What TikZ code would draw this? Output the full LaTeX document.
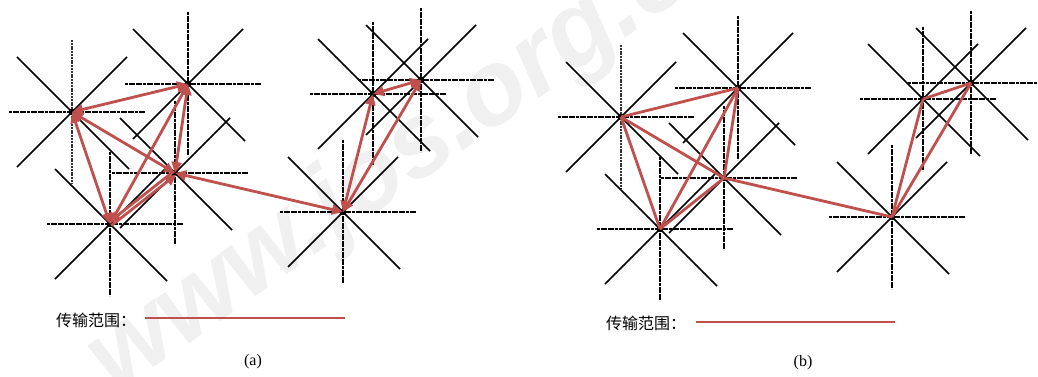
\documentclass[tikz,border=0pt]{standalone}
\usepackage{fontspec}
\setmainfont{Liberation Serif}
\newfontfamily\cjk{Noto Sans CJK SC}
\newfontfamily\wmfont{Liberation Sans}
\usetikzlibrary{arrows.meta}
\definecolor{linkred}{HTML}{C0504D}
\tikzset{
  hv/.style={line width=1.9pt, dash pattern=on 3pt off 0.6pt, black},
  vthin/.style={line width=1.1pt, dash pattern=on 2pt off 0.8pt, black!80},
  vthick/.style={},
  dg/.style={line width=1.6pt, black},
  pics/radstar/.style={code={
    \draw[hv] (-63,0) -- (73,0);
    \draw[hv,#1] (0,-72) -- (0,72);
    \draw[dg] (-55,-55) -- (57,57);
    \draw[dg] (55,-55) -- (-55,55);
    \fill[black] (-2.8,-2.8) rectangle (2.8,2.8);
  }},
  link/.style={draw=linkred, line width=2.8pt},
  arr/.style={link, {Triangle[length=11pt,width=10pt]}-{Triangle[length=11pt,width=10pt]}},
  single/.style={link, -{Triangle[length=11pt,width=10pt]}},
  legendtxt/.style={font=\cjk\fontsize{16}{16}\selectfont, anchor=west, inner sep=0pt},
  caption/.style={font=\fontsize{16}{16}\selectfont, inner sep=0pt},
}
\begin{document}
\begin{tikzpicture}[x=1pt,y=-1pt]
\useasboundingbox (0,0) rectangle (1038,377);
\fill[white] (0,0) rectangle (1038,377);
% watermark
\node[rotate=35, anchor=base west, text=black!6, inner sep=0pt,
      font=\wmfont\bfseries\itshape\fontsize{105}{105}\selectfont] (wm) at (115,395) {www.jos.org.cn};
% ---------- panel (a) ----------
\coordinate (A1) at (72,112);
\coordinate (A2) at (188,84);
\coordinate (A3) at (175,173);
\coordinate (A4) at (110,224);
\coordinate (A5) at (343,212);
\coordinate (A6) at (373,94);
\coordinate (A7) at (421,80);
% ---------- panel (b) ----------
\coordinate (B1) at (621,117);
\coordinate (B2) at (738,88);
\coordinate (B3) at (724,178);
\coordinate (B4) at (660,229);
\coordinate (B5) at (892,217);
\coordinate (B6) at (923,99);
\coordinate (B7) at (971,83);
% stars
\pic at (A1) {radstar=vthin};
\foreach \n in {A2,A3,A4,A5,A6,A7} {\pic at (\n) {radstar=vthick};}
\pic at (B1) {radstar=vthin};
\foreach \n in {B2,B3,B4,B5,B6,B7} {\pic at (\n) {radstar=vthick};}
% links (a)
\draw[arr] (A1) -- (A2);
\draw[arr] (A1) -- (A3);
\draw[arr] (A1) -- (A4);
\draw[arr] (A2) -- (A3);
\draw[arr] (A2) -- (A4);
\draw[single] ([shift={(1.3,1.6)}]A4) -- ([shift={(1.3,1.6)}]A3);
\draw[single] ([shift={(-1.3,-1.6)}]A3) -- ([shift={(-1.3,-1.6)}]A4);
\draw[arr] (A3) -- (A5);
\draw[arr] (A5) -- (A6);
\draw[arr] (A5) -- (A7);
\draw[arr] (A6) -- (A7);
% links (b)
\draw[link] (B1) -- (B2);
\draw[link] (B1) -- (B3);
\draw[link] (B1) -- (B4);
\draw[link] (B2) -- (B3);
\draw[link] (B2) -- (B4);
\draw[link] (B3) -- (B4);
\draw[link] (B3) -- (B5);
\draw[link] (B5) -- (B6);
\draw[link] (B5) -- (B7);
\draw[link] (B6) -- (B7);
% legends
\node[legendtxt] (la) at (56,320) {传输范围：};
\coordinate (la1) at (145,318);
\coordinate (la2) at (345,318);
\draw[link] (la1) -- (la2);
\node[caption] (ca) at (253,362) {(a)};
\node[legendtxt] (lb) at (606,323) {传输范围：};
\coordinate (lb1) at (696,322);
\coordinate (lb2) at (895,322);
\draw[link] (lb1) -- (lb2);
\node[caption] (cb) at (803,363) {(b)};
\end{tikzpicture}
\end{document}
